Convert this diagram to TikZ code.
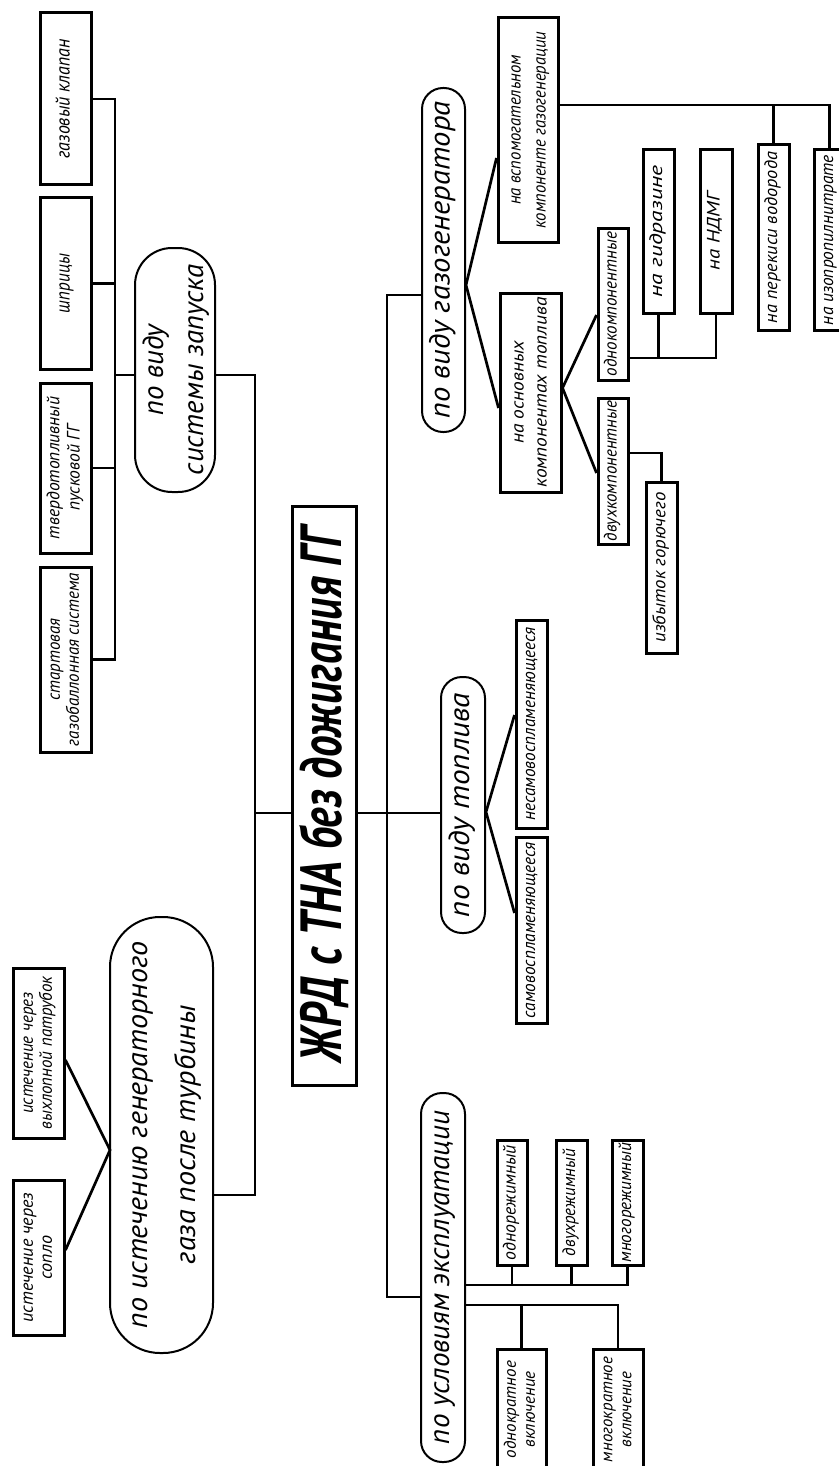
\documentclass[tikz,border=0pt]{standalone}
\usepackage{fontspec}
\setmainfont{PT Sans}
\usepackage{graphicx}
\newcommand\vt[4]{\rotatebox{90}{\resizebox{#1pt}{\height}{\fontsize{#2}{#3}\selectfont\itshape\begin{tabular}{@{}c@{}}#4\end{tabular}}}}
\begin{document}
\begin{tikzpicture}[x=1pt,y=-1pt,
  box/.style={draw, line width=3pt, inner sep=0pt, rectangle},
  pill/.style={draw, line width=2pt, inner sep=0pt, rectangle},
  conn/.style={line width=2.7pt}]
\fill[white] (0,0) rectangle (838,1466);
\useasboundingbox (0,0) rectangle (838,1466);

% left column
\node[box, minimum width=51pt, minimum height=172pt] (klapan) at (65.5,99) {\vt{119}{20}{21}{газовый клапан}};
\node[box, minimum width=51pt, minimum height=171pt] (shpritsy) at (65.5,283.5) {\vt{59}{20}{21}{шприцы}};
\node[box, minimum width=51pt, minimum height=170pt] (tverdo) at (65.5,468) {\vt{142}{18}{20}{твердотопливный\\пусковой ГГ}};
\node[box, minimum width=51pt, minimum height=185pt] (startov) at (65.5,659.5) {\vt{173}{18}{19}{стартовая\\газобаллонная система}};
\node[pill, rounded corners=37pt, minimum width=76pt, minimum height=244pt] (zapusk) at (175,370) {\vt{210}{29}{40}{по виду\\системы запуска}};
\node[pill, rounded corners=50pt, minimum width=103pt, minimum height=436pt] (istech) at (161.5,1135) {\vt{387}{29}{48}{по истечению генераторного\\газа после турбины}};
\node[box, minimum width=51pt, minimum height=170pt] (vyhlop) at (38.5,1053) {\vt{153}{18}{19}{истечение через\\выхлопной патрубок}};
\node[box, minimum width=51pt, minimum height=155pt] (soplo) at (38.5,1257.5) {\vt{130}{18}{19}{истечение через\\сопло}};

% main
\node[box, minimum width=64pt, minimum height=579pt] (main) at (324,795.5) {\rotatebox{90}{\resizebox{534pt}{\height}{\fontsize{58}{60}\selectfont\bfseries\itshape ЖРД с ТНА без дожигания ГГ}}};

% right pills
\node[pill, rounded corners=21pt, minimum width=43pt, minimum height=344pt] (gazogen) at (443.5,260) {\vt{317}{29}{30}{по виду газогенератора}};
\node[pill, rounded corners=21pt, minimum width=44pt, minimum height=256pt] (toplivo) at (463,805) {\vt{224}{29}{30}{по виду топлива}};
\node[pill, rounded corners=21pt, minimum width=44pt, minimum height=369pt] (ekspl) at (443,1277.5) {\vt{333}{29}{30}{по условиям эксплуатации}};

% gas generator branch
\node[box, minimum width=60pt, minimum height=224pt] (vspom) at (528,130) {\vt{197}{18}{25}{на вспомогательном\\компоненте газогенерации}};
\node[box, minimum width=61pt, minimum height=199pt] (osnov) at (530.5,392.5) {\vt{190}{18}{23}{на основных\\компонентах топлива}};
\node[box, minimum width=30pt, minimum height=152pt] (odnokomp) at (613,304) {\vt{144}{18}{18}{однокомпонентные}};
\node[box, minimum width=30pt, minimum height=146pt] (dvuhkomp) at (613,471) {\vt{140}{18}{18}{двухкомпонентные}};
\node[box, minimum width=31pt, minimum height=163pt] (gidrazin) at (658.5,231.5) {\vt{132}{18}{18}{на гидразине}};
\node[box, minimum width=32pt, minimum height=163pt] (ndmg) at (716,231.5) {\vt{78}{18}{18}{на НДМГ}};
\node[box, minimum width=31pt, minimum height=171pt] (izbytok) at (661.5,567.5) {\vt{150}{18}{18}{избыток горючего}};
\node[box, minimum width=31pt, minimum height=185pt] (perekis) at (773.5,237.5) {\vt{171}{18}{18}{на перекиси водорода}};
\node[box, minimum width=31pt, minimum height=180pt] (izoprop) at (829.5,240) {\vt{170}{18}{18}{на изопропилнитрате}};

% fuel branch
\node[box, minimum width=31pt, minimum height=208pt] (nesamo) at (531.5,724) {\vt{193}{18}{18}{несамовоспламеняющееся}};
\node[box, minimum width=31pt, minimum height=186pt] (samo) at (531.5,930) {\vt{176}{18}{18}{самовоспламеняющееся}};

% operation branch
\node[box, minimum width=30pt, minimum height=125pt] (odnorezh) at (512,1202.5) {\vt{115}{18}{18}{однорежимный}};
\node[box, minimum width=31pt, minimum height=125pt] (dvuhrezh) at (571.5,1202.5) {\vt{107}{18}{18}{двухрежимный}};
\node[box, minimum width=31pt, minimum height=125pt] (mnogorezh) at (627.5,1202.5) {\vt{120}{18}{18}{многорежимный}};
\node[box, minimum width=49pt, minimum height=121pt] (odnokrat) at (521.5,1409.5) {\vt{97}{17}{19}{однократное\\включение}};
\node[box, minimum width=50pt, minimum height=121pt] (mnogokrat) at (618,1409.5) {\vt{105}{17}{19}{многократное\\включение}};

% connectors, left side
\coordinate (busL) at (115,375);
\draw[conn] (klapan.east) -| (busL);
\draw[conn] (shpritsy.east) -| (busL);
\draw[conn] (tverdo.east) -| (busL);
\draw[conn] (startov.east) -| (busL);
\draw[conn] (zapusk.west |- busL) -- (busL);
\coordinate (jL) at (255,813);
\coordinate (jB) at (255,1195);
\draw[conn] (zapusk.east |- busL) -| (jL) -- (main.west |- jL);
\draw[conn] (istech.east |- jB) -- (jB) -- (jL);
\coordinate (fanI) at (110,1150);
\draw[conn] (vyhlop.east |- 0,1060) -- (fanI) -- (soplo.east |- 0,1250);

% spine
\coordinate (sT) at (387,295);
\coordinate (sM) at (387,813);
\coordinate (sB) at (387,1297);
\draw[conn] (gazogen.west |- sT) -- (sT) -- (sB) -- (ekspl.west |- sB);
\draw[conn] (main.east |- sM) -- (toplivo.west |- sM);

% gas generator
\coordinate (fG) at (466,285);
\draw[conn] (vspom.west |- 0,158) -- (fG) -- (osnov.west |- 0,408);
\draw[conn] (odnokomp.west |- 0,315) -- (osnov.east |- 0,388) -- (dvuhkomp.west |- 0,473);
\draw[conn] (odnokomp.east |- 0,358) -| (ndmg.south);
\draw[conn] (gidrazin.south) -- (gidrazin.south |- 0,358);
\draw[conn] (dvuhkomp.east |- 0,453) -| (izbytok.north);
\draw[conn] (vspom.east |- 0,105) -| (izoprop.north);
\draw[conn] (perekis.north) -- (perekis.north |- 0,105);

% fuel
\draw[conn] (nesamo.west |- 0,715) -- (toplivo.east |- 0,812) -- (samo.west |- 0,913);

% operation
\draw[conn] (ekspl.east |- 0,1285) -| (mnogorezh.south);
\draw[conn] (odnorezh.south) -- (odnorezh.south |- 0,1285);
\draw[conn] (dvuhrezh.south) -- (dvuhrezh.south |- 0,1285);
\draw[conn] (ekspl.east |- 0,1305) -| (mnogokrat.north);
\draw[conn] (odnokrat.north) -- (odnokrat.north |- 0,1305);
\end{tikzpicture}
\end{document}
